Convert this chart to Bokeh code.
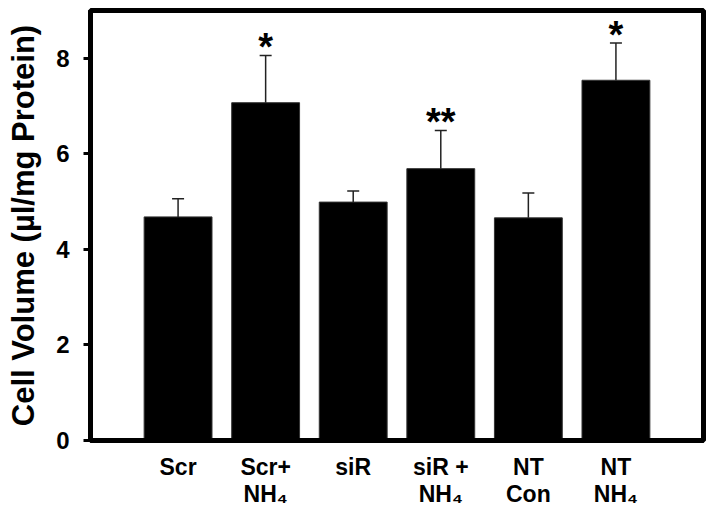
from bokeh.plotting import figure
from bokeh.models import Range1d, ColumnDataSource, Whisker, TeeHead, FixedTicker
from bokeh.core.properties import value
from bokeh.embed import file_html
from bokeh.resources import INLINE

# ---- data ----
categories = ["Scr", "Scr+NH4", "siR", "siR+NH4", "NT Con", "NT NH4"]
means = [4.68, 7.07, 4.99, 5.69, 4.66, 7.54]
errors = [0.38, 0.99, 0.23, 0.80, 0.52, 0.78]
significance = ["", "*", "", "**", "", "*"]
tick_labels = ["Scr", "Scr+\nNH\u2084", "siR", "siR +\nNH\u2084", "NT\nCon", "NT\nNH\u2084"]
y_ticks = [0, 2, 4, 6, 8]

FONT = "Liberation Sans"

xs = list(range(1, len(categories) + 1))
src = ColumnDataSource(dict(
    x=xs, mean=means, upper=[m + e for m, e in zip(means, errors)], sig=significance,
))

p = figure(width=712, height=510, x_range=Range1d(0, 7), y_range=Range1d(0, 9),
           output_backend="svg", toolbar_location=None,
           min_border_left=90, min_border_right=9, min_border_top=10, min_border_bottom=70)

p.vbar(x="x", top="mean", width=0.775, fill_color="black", line_color="#333333", source=src)

w = Whisker(base="x", upper="upper", lower="mean", source=src,
            line_width=1.5, line_color="#222222", level="overlay",
            upper_head=TeeHead(size=12, line_width=1.5, line_color="#222222"), lower_head=None)
p.add_layout(w)

p.text(x="x", y="upper", text="sig", source=src, text_font=value(FONT), text_font_style="bold",
       text_font_size="38px", text_align="center", text_baseline="middle", y_offset=-8,
       text_color="black")

p.xgrid.visible = False
p.ygrid.visible = False
p.outline_line_color = "black"
p.outline_line_width = 5
p.outline_line_alpha = 1

xa = p.xaxis[0]
xa.ticker = FixedTicker(ticks=xs)
xa.major_label_overrides = {x: t for x, t in zip(xs, tick_labels)}
xa.axis_line_width = 5
xa.axis_line_color = "black"
xa.major_tick_line_color = None
xa.minor_tick_line_color = None
xa.major_tick_out = 0
xa.major_tick_in = 0
xa.major_label_standoff = 13
xa.major_label_text_font = FONT
xa.major_label_text_font_style = "bold"
xa.major_label_text_font_size = "23px"
xa.major_label_text_color = "black"
xa.major_label_text_line_height = 1.05

ya = p.yaxis[0]
ya.ticker = FixedTicker(ticks=y_ticks)
ya.axis_line_width = 5
ya.axis_line_color = "black"
ya.major_tick_line_width = 3
ya.major_tick_out = 7
ya.major_tick_in = 0
ya.minor_tick_line_color = None
ya.major_label_standoff = 14
ya.major_label_text_font = FONT
ya.major_label_text_font_style = "bold"
ya.major_label_text_font_size = "24px"
ya.major_label_text_color = "black"
ya.axis_label = "Cell Volume (\u00b5l/mg Protein)"
ya.axis_label_text_font = FONT
ya.axis_label_text_font_style = "bold"
ya.axis_label_text_font_size = "31px"
ya.axis_label_text_color = "black"
ya.axis_label_standoff = 12

open("out.html", "w").write(file_html(p, INLINE))
